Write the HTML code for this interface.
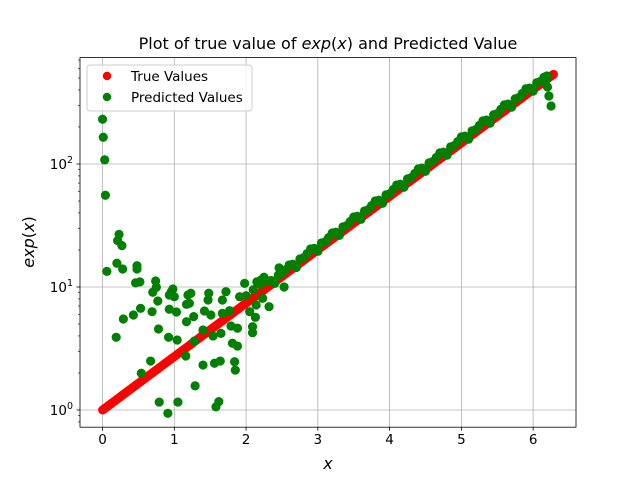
<!DOCTYPE html>
<html><head><meta charset="utf-8"><style>
body{margin:0;background:#fff}
svg{display:block;font-family:"DejaVu Sans","Liberation Sans",sans-serif}
</style></head><body>
<svg id="chart" width="640" height="480" xmlns="http://www.w3.org/2000/svg">
<rect width="640" height="480" fill="#fff"/>
<g id="grid"></g>
<g id="red"></g>
<g id="green"></g>
<rect x="80" y="57.6" width="496" height="369.6" fill="none" stroke="#000" stroke-width="0.8"/>
<g id="axes"></g>
<text x="328" y="49" text-anchor="middle" font-size="16">Plot of true value of <tspan font-style="italic">exp</tspan>(<tspan font-style="italic">x</tspan>) and Predicted Value</text>
<text x="328" y="469" text-anchor="middle" font-size="16" font-style="italic">x</text>
<text transform="translate(34,242) rotate(-90)" text-anchor="middle" font-size="16"><tspan font-style="italic">exp</tspan>(<tspan font-style="italic">x</tspan>)</text>
<g>
<rect x="87" y="65" width="165" height="46" rx="3" fill="#fff" fill-opacity="0.8" stroke="#ccc" stroke-width="1"/>
<circle cx="107" cy="76" r="4.2" fill="#ff0000"/>
<text x="131" y="81" font-size="13.5">True Values</text>
<circle cx="107" cy="97" r="4.2" fill="#008000"/>
<text x="131" y="102" font-size="13.5">Predicted Values</text>
</g>
</svg>
<script>
const xTicks=[0,1,2,3,4,5,6];
const yTickExps=[0,1,2];
const predX=[0.00,0.01,0.03,0.04,0.23,0.21,0.27,0.06,0.20,0.28,0.48,0.48,0.46,0.52,0.74,0.75,0.70,0.77,0.98,1.00,0.93,0.53,0.43,0.29,0.69,0.93,1.03,0.19,0.78,0.92,1.04,1.17,1.19,1.17,0.67,0.54,1.16,0.79,1.05,0.91,
0.96,1.23,1.21,1.27,1.48,1.47,1.42,1.51,1.40,1.54,1.65,1.72,1.67,1.67,1.77,1.79,1.88,1.91,1.98,2.05,2.13,2.09,2.09,2.14,1.28,1.40,1.56,1.64,1.81,1.88,1.84,1.85,1.29,1.62,1.58,2.21,2.23,2.32,2.46,2.53,
2.0,2.1,2.15,2.2,2.25,
2.3,2.4,2.5,2.6,2.7,2.8,2.9,3.0,3.1,3.2,3.3,3.4,3.5,3.6,3.7,3.8,3.9,4.0,4.1,4.2,4.3,4.4,4.5,4.6,4.7,4.8,4.9,5.0,5.1,5.2,5.3,5.4,5.5,5.6,5.7,5.8,5.9,6.0,6.1,6.2,6.19,6.2,6.22,6.25,
2.35,2.45,2.55,2.65,2.75,2.85,2.95,3.05,3.15,3.25,3.35,3.45,3.55,3.65,3.75,3.85,3.95,4.05,4.15,4.25,4.35,4.45,4.55,4.65,4.75,4.85,4.95,5.05,5.15,5.25,5.35,5.45,5.55,5.65,5.75,5.85,5.95,6.05,6.15];
const predY=[231,165,108,55.7,26.8,23.8,21.7,13.4,15.6,14.0,14.9,14.0,10.8,11.0,11.2,9.95,9.06,7.69,9.63,8.34,8.61,6.71,5.92,5.49,6.30,6.59,6.26,3.90,4.56,3.90,3.71,5.22,8.61,7.23,2.50,1.99,2.75,1.16,1.16,0.94,
9.16,8.90,7.37,5.74,8.90,7.84,6.38,5.92,4.47,4.00,4.20,9.16,7.84,6.11,6.42,4.82,4.62,8.34,10.7,6.30,5.67,4.75,4.25,7.14,3.64,2.32,2.40,2.50,3.49,3.31,2.47,2.11,1.57,1.17,1.06,11.4,8.09,6.92,14.3,10.0,
8.5,9.5,11.0,10.5,12.0,
11.2,10.7,12.8,15.1,14.4,17.3,20.4,19.5,23.3,27.5,26.3,31.5,37.1,35.5,42.5,50.1,47.9,57.3,67.6,64.7,77.4,91.2,87.3,104.5,123.1,117.9,141.0,166.2,159.1,190.4,224.3,214.8,256.9,302.8,289.9,346.8,408.8,391.3,468.2,500,519,423,357,296,
11.3,12.5,13.8,15.3,16.9,18.7,20.6,22.8,25.2,27.9,30.8,34.0,37.6,41.5,45.9,50.7,56.1,62.0,68.5,75.7,83.7,92.5,102.2,113,124.8,137.9,152.5,168.5,186.2,205.8,227.5,251.4,277.9,307,339.3,375,414.4,458,506];
const trueCount=300;
const trueXMax=6.2832;

const NS="http://www.w3.org/2000/svg";
const X0=80,X1=576,Y0=57.6,Y1=427.2;
const xmin=-0.31416,xmax=6.5973;
const lmin=-0.1398,lmax=2.865;
function sx(v){return X0+(v-xmin)/(xmax-xmin)*(X1-X0);}
function sy(v){return Y1-(Math.log10(v)-lmin)/(lmax-lmin)*(Y1-Y0);}
function mk(tag,attrs,parent){const e=document.createElementNS(NS,tag);for(const k in attrs)e.setAttribute(k,attrs[k]);parent.appendChild(e);return e;}
const grid=document.getElementById('grid'),axes=document.getElementById('axes');
xTicks.forEach(t=>{
  const x=sx(t);
  const g=mk('line',{x1:x,x2:x,y1:Y0,y2:Y1,stroke:'#b0b0b0','stroke-width':0.8},grid);
  
  
  const tk=mk('line',{x1:x,x2:x,y1:Y1,y2:Y1+3.5,stroke:'#000','stroke-width':0.8},axes);
  
  
  const lb=mk('text',{x:x,y:Y1+17,'text-anchor':'middle','font-size':13.5},axes);
  lb.textContent=t;
  
  
});
yTickExps.forEach(e=>{
  const y=sy(Math.pow(10,e));
  const g=mk('line',{x1:X0,x2:X1,y1:y,y2:y,stroke:'#b0b0b0','stroke-width':0.8},grid);
  
  
  const tk=mk('line',{x1:X0-3.5,x2:X0,y1:y,y2:y,stroke:'#000','stroke-width':0.8},axes);
  
  
  const lb=mk('text',{x:X0-7,y:y+5,'text-anchor':'end','font-size':13.5},axes);
  lb.innerHTML='10<tspan dy="-6" font-size="9.5">'+e+'</tspan>';
  
  
});
for(let d=-1;d<=2;d++)for(let m=2;m<=9;m++){
  const v=m*Math.pow(10,d);const lv=Math.log10(v);
  if(lv<lmin||lv>lmax)continue;
  const y=sy(v);
  const tk=mk('line',{x1:X0-2,x2:X0,y1:y,y2:y,stroke:'#000','stroke-width':0.6},axes);
  
  
}
const red=document.getElementById('red');
for(let i=0;i<trueCount;i++){
  const xv=trueXMax*i/(trueCount-1);
  const c=mk('circle',{cx:sx(xv),cy:sy(Math.exp(xv)),r:4.5,fill:'#ff0000'},red);
  
  
}
const green=document.getElementById('green');
predX.forEach((xv,i)=>{
  const c=mk('circle',{cx:sx(xv),cy:sy(predY[i]),r:4.6,fill:'#008000'},green);
  
  
});
</script>
</body></html>
